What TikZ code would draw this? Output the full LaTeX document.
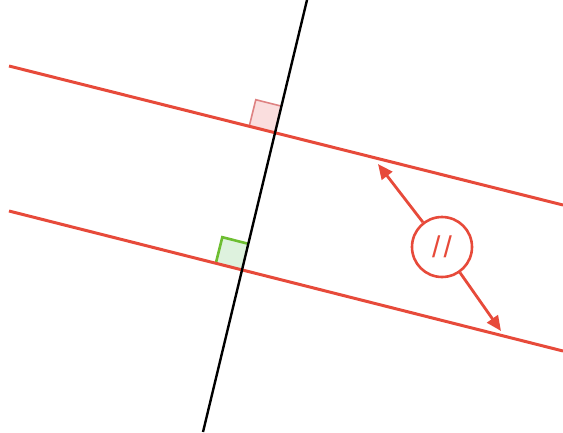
\documentclass[tikz,border=0pt]{standalone}
\usepackage{fontspec}
\setmainfont{Liberation Sans}
\usetikzlibrary{arrows.meta,calc}
\definecolor{myred}{RGB}{231,74,58}
\definecolor{mypinkfill}{RGB}{250,222,222}
\definecolor{mypinkdraw}{RGB}{222,130,130}
\definecolor{mygreen}{RGB}{110,190,50}
\definecolor{mygreenfill}{RGB}{222,242,222}
\tikzset{
  redline/.style={myred, line width=3pt},
  transversal/.style={black, line width=2.4pt},
  pinkmark/.style={draw=mypinkdraw, line width=1.6pt},
  greenmark/.style={draw=mygreen, line width=2.6pt},
  markcircle/.style={circle, draw=myred, line width=2.6pt, minimum size=60pt, inner sep=0pt, text=myred, font=\fontsize{30}{30}\selectfont},
  redarrow/.style={myred, line width=2.8pt, -{Triangle[length=15pt,width=13pt]}}
}
\begin{document}
\begin{tikzpicture}[x=1pt,y=-1pt]
\useasboundingbox (0,0) rectangle (563,432);
% coordinates
\coordinate (u1) at (9,66);
\coordinate (u2) at (563,205);
\coordinate (l1) at (9,211);
\coordinate (l2) at (563,351);
\coordinate (t1) at (307,0);
\coordinate (t2) at (203,432);
\coordinate (pu) at (275.5,132.5);
\coordinate (pl) at (242,270);
% right angle marks
\fill[mypinkfill] (pu) -- ++(-26.2,-6.6) -- ++(6.5,-26.2) -- ++(26.2,6.6) -- cycle;
\draw[pinkmark] ($(pu)+(-26.2,-6.6)$) -- ++(6.5,-26.2) -- ++(26.2,6.6);
\fill[mygreenfill] (pl) -- ++(-26.2,-6.6) -- ++(6.5,-26.2) -- ++(26.2,6.6) -- cycle;
\draw[greenmark] ($(pl)+(-26.2,-6.6)$) -- ++(6.5,-26.2) -- ++(26.2,6.6);
% lines
\draw[redline] (u1) -- (u2);
\draw[redline] (l1) -- (l2);
\draw[transversal] (t1) -- (t2);
% marker
\node[markcircle] (c) at (442,247) {/\hspace{3pt}/};
\coordinate (a1) at (378,164);
\coordinate (a2) at (501,331);
\draw[redarrow] (c) -- (a1);
\draw[redarrow] (c) -- (a2);
\end{tikzpicture}
\end{document}
